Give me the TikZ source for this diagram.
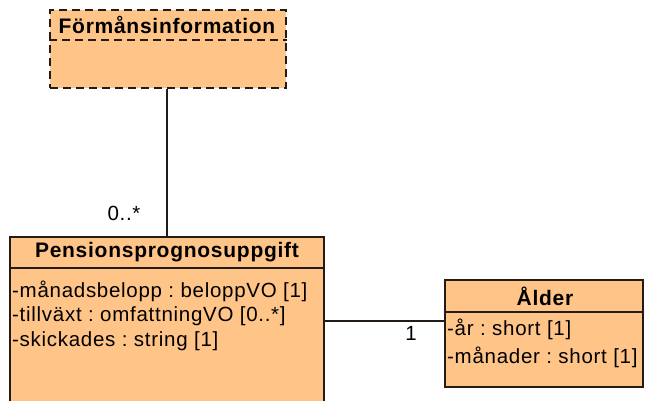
\documentclass[tikz,border=0pt]{standalone}
\usepackage{fontspec}
\setmainfont{Liberation Sans}[LetterSpace=3.5]
\usepackage{xcolor}
\usetikzlibrary{positioning}
\definecolor{classfill}{RGB}{255,196,136}
\definecolor{classline}{RGB}{35,28,22}
\frenchspacing
\tikzset{
  umlclass/.style={
    shape = rectangle,
    draw = classline,
    fill = classfill,
    line width = 1.2pt,
    inner sep = 0pt
  },
  umldashed/.style={
    umlclass,
    line width = 1.8pt,
    dash pattern = on 8pt off 5pt
  },
  header/.style={
    font = \fontsize{21}{25}\selectfont\bfseries,
    inner sep = 0pt
  },
  attr/.style={
    anchor = west,
    font = \fontsize{20.5}{25}\selectfont,
    inner sep = 0pt
  },
  mult/.style={
    font = \fontsize{20.5}{25}\selectfont,
    inner sep = 0pt
  },
  assoc/.style={
    draw = classline,
    line width = 1.2pt
  }
}

\begin{document}
\begin{tikzpicture}[x=1pt, y=-1pt]
    \path[use as bounding box, clip] (0,0) rectangle (646,401);

    % Förmånsinformation
    \node[umldashed, minimum width=236pt, minimum height=78pt] (form) at (168,49) {};
    \draw[umldashed, fill=none] (form.west |- 0,40) -- (form.east |- 0,40);
    \node[header] (formname) at (167,25) {Förmånsinformation};

    % Pensionsprognosuppgift
    \node[umlclass, minimum width=314pt, minimum height=200pt] (pens) at (167,337) {};
    \draw[umlclass] (pens.west |- 0,268) -- (pens.east |- 0,268);
    \node[header] (pensname) at (167,252) {Pensionsprognosuppgift};
    \node[attr] (pensa) at (12,291) {-månadsbelopp : beloppVO [1]};
    \node[attr] (pensb) at (12,316) {-tillväxt : omfattningVO [0..*]};
    \node[attr] (pensc) at (12,341) {-skickades : string [1]};

    % Ålder
    \node[umlclass, minimum width=198pt, minimum height=107pt] (alder) at (544,333.5) {};
    \draw[umlclass] (alder.west |- 0,312) -- (alder.east |- 0,312);
    \node[header] (aldername) at (545,296) {Ålder};
    \node[attr] (aldera) at (447,329) {-år : short [1]};
    \node[attr] (alderb) at (447,357) {-månader : short [1]};

    % associations
    \draw[assoc] (form.south -| pens.north) -- (pens.north);
    \coordinate (alderin) at (alder.west |- 0,321);
    \draw[assoc] (pens.east |- alderin) -- (alderin);
    \node[mult] (multform) at (124,213) {0..*};
    \node[mult] (multalder) at (411,333) {1};
\end{tikzpicture}
\end{document}
